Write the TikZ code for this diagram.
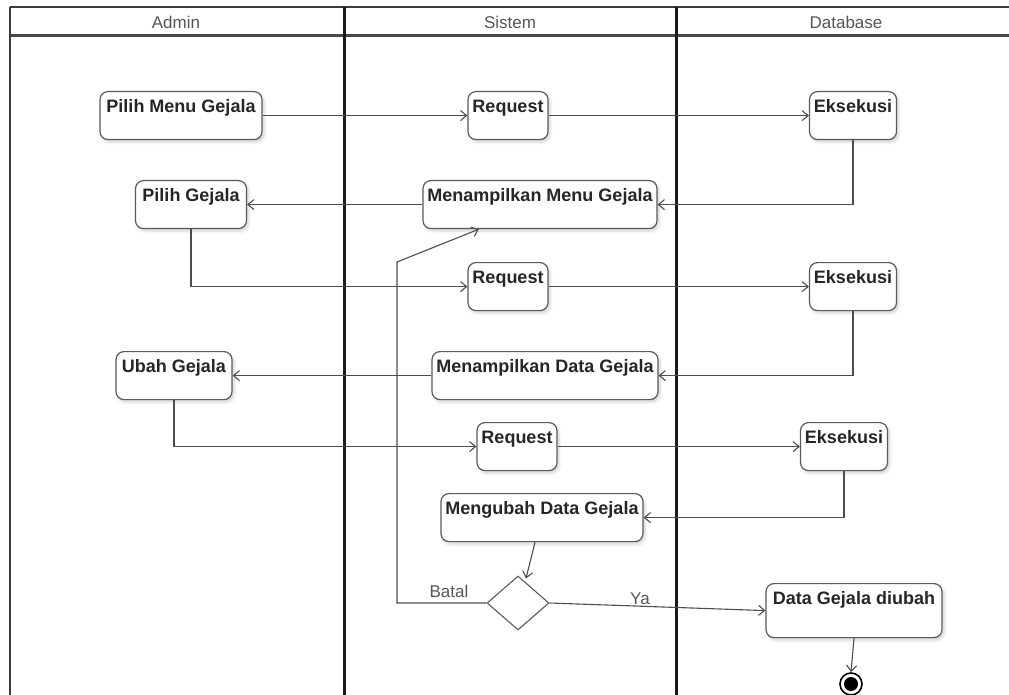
\documentclass[tikz,border=0pt]{standalone}
\usepackage{fontspec}
\setmainfont{Liberation Sans}
\usetikzlibrary{arrows.meta,shapes.geometric,shadows.blur,calc}
\definecolor{edge}{HTML}{4D4D4D}
\definecolor{lane}{HTML}{1A1A1A}
\definecolor{boxline}{HTML}{5A5A5A}
\definecolor{labtext}{HTML}{555555}

\begin{document}
\begin{tikzpicture}[x=1pt,y=-1pt,
  act/.style={draw=boxline, line width=1.2pt, rounded corners=8pt, fill=white, anchor=north,
    font=\fontsize{18}{21}\selectfont\bfseries, text=black!85,
    inner xsep=4pt, inner ysep=4pt, text height=17pt, text depth=23pt,
    blur shadow={shadow xshift=2pt,shadow yshift=-2.5pt,shadow blur radius=3pt,shadow opacity=18}},
  flow/.style={draw=edge, line width=1.1pt, -{Straight Barb[length=6pt,width=10pt,line width=1.1pt]}},
  lanetitle/.style={font=\fontsize{17}{20}\selectfont, text=labtext},
  guard/.style={font=\fontsize{17}{20}\selectfont, text=labtext, inner sep=1pt},
]
\useasboundingbox (0,0) rectangle (1009,695);

% swimlane frame
\draw[lane!85, line width=2.5pt] (10,7) -- (1009,7);
\draw[lane!80, line width=3pt] (10,36) -- (1009,36);
\draw[lane!85, line width=2.2pt] (10,7) -- (10,695);
\draw[lane, line width=3pt] (344,7) -- (344,695);
\draw[lane, line width=3pt] (676,7) -- (676,695);

% lane titles
\node[lanetitle] (hAdmin) at (176,22) {Admin};
\node[lanetitle] (hSistem) at (510,22) {Sistem};
\node[lanetitle] (hDb) at (846,22) {Database};

% activities
\node[act, minimum width=162] (pmg) at (181,91) {Pilih Menu Gejala};
\node[act, minimum width=80] (rq1) at (508,91) {Request};
\node[act, minimum width=87] (ex1) at (853,91) {Eksekusi};
\node[act, minimum width=111] (pg) at (191,180) {Pilih Gejala};
\node[act, minimum width=234] (mmg) at (540,180) {Menampilkan Menu Gejala};
\node[act, minimum width=80] (rq2) at (508,262) {Request};
\node[act, minimum width=87] (ex2) at (853,262) {Eksekusi};
\node[act, minimum width=116] (ug) at (174,351) {Ubah Gejala};
\node[act, minimum width=226] (mdg) at (545,351) {Menampilkan Data Gejala};
\node[act, minimum width=80] (rq3) at (517,422) {Request};
\node[act, minimum width=87] (ex3) at (844,422) {Eksekusi};
\node[act, minimum width=202] (ubh) at (542,493) {Mengubah Data Gejala};
\node[act, minimum width=176, text depth=29pt] (dgd) at (854,583) {Data Gejala diubah};

% decision and final state
\node[diamond, draw=boxline, line width=1.1pt, fill=white, minimum width=62, minimum height=54, inner sep=0pt] (dec) at (518,603) {};
\node[circle, draw=black, line width=1.6pt, fill=white, minimum size=22, inner sep=0pt] (fin) at (851,684) {};
\node[circle, fill=black, minimum size=14, inner sep=0pt] (finDot) at (fin.center) {};

% flows
\draw[flow] (pmg.east) -- (rq1.west);
\draw[flow] (rq1.east) -- (ex1.west);
\draw[flow] (ex1.south) |- (mmg.east);
\draw[flow] (mmg.west) -- (pg.east);
\draw[flow] (pg.south) |- (rq2.west);
\draw[flow] (rq2.east) -- (ex2.west);
\draw[flow] (ex2.south) |- (mdg.east);
\draw[flow] (mdg.west) -- (ug.east);
\draw[flow] (ug.south) |- (rq3.west);
\draw[flow] (rq3.east) -- (ex3.west);
\draw[flow] (ex3.south) |- (ubh.east);
\draw[flow] ($(ubh.south)+(-7,0)$) -- ($(dec.north)+(8,3)$);

% cancel loop back to the menu
\coordinate (loopTop) at (397,262);
\draw[flow] (dec.west) -| (loopTop) -- ($(mmg.south west)!0.24!(mmg.south east)$);
\node[guard, anchor=base] (batal) at (449,597) {Batal};

% confirm
\draw[flow] (dec.east) -- (dgd.west);
\node[guard, anchor=base] (ya) at (640,604) {Ya};
\draw[flow] (dgd.south) -- (fin.north);
\end{tikzpicture}
\end{document}
